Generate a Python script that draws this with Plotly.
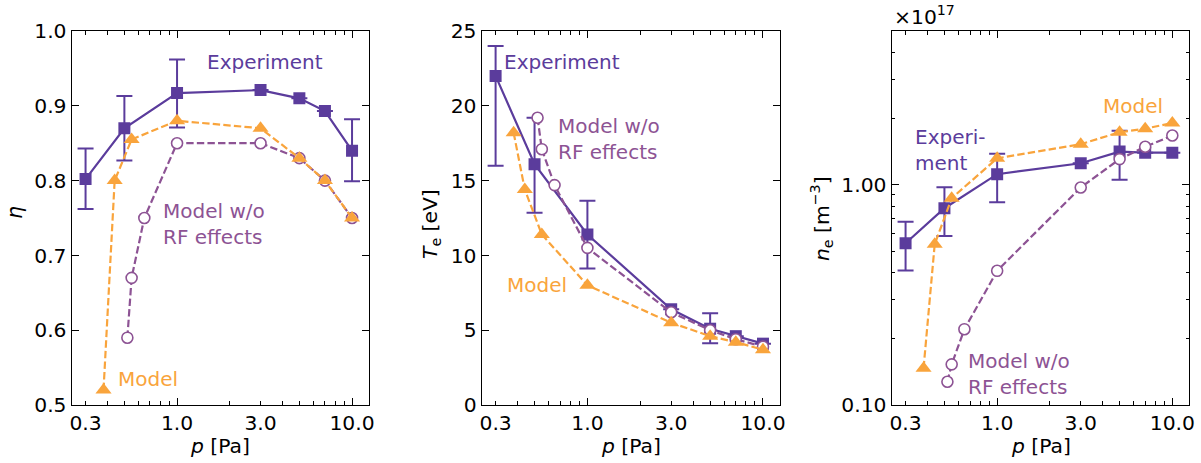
import math
import plotly.graph_objects as go

# ---------------- data ----------------
p_exp = [0.3, 0.5, 1.0, 3.0, 5.0, 7.0, 10.0]
p_model = [0.38, 0.44, 0.55, 1.0, 3.0, 5.0, 7.0, 10.0]
p_norf = [0.52, 0.55, 0.65, 1.0, 3.0, 5.0, 7.0, 10.0]

eta_exp = [0.802, 0.870, 0.917, 0.921, 0.910, 0.893, 0.840]
eta_exp_lo = [0.762, 0.827, 0.871, None, None, None, 0.799]
eta_exp_hi = [0.843, 0.913, 0.962, None, None, None, 0.882]
eta_model = [0.52, 0.80, 0.855, 0.88, 0.87, 0.83, 0.80, 0.75]
eta_norf = [0.59, 0.67, 0.75, 0.85, 0.85, 0.83, 0.80, 0.75]

te_exp = [22.0, 16.1, 11.4, 6.4, 5.1, 4.6, 4.1]
te_exp_lo = [16.0, 12.85, 9.13, None, 4.12, None, None]
te_exp_hi = [24.0, 19.2, 13.65, None, 6.13, None, None]
te_model = [18.2, 14.4, 11.4, 8.0, 5.5, 4.6, 4.2, 3.7]
te_norf = [19.2, 17.1, 14.7, 10.5, 6.2, 5.0, 4.4, 3.9]

ne_exp = [0.543, 0.783, 1.118, 1.254, 1.416, 1.40, 1.40]
ne_exp_lo = [0.408, 0.586, 0.834, None, 1.054, None, None]
ne_exp_hi = [0.68, 0.976, 1.383, None, 1.76, None, None]
ne_model = [0.147, 0.537, 0.87, 1.32, 1.53, 1.735, 1.80, 1.91]
ne_norf = [0.1276, 0.153, 0.221, 0.407, 0.973, 1.309, 1.49, 1.675]

x_ticks = [0.3, 1.0, 3.0, 10.0]
x_ticktext = ["0.3", "1.0", "3.0", "10.0"]
x_minor = [0.4, 0.5, 0.6, 0.7, 0.8, 0.9, 2, 4, 5, 6, 7, 8, 9]
x_long = [1.0, 10.0]
ne_ticks = [0.1, 1.0]
ne_ticktext = ["0.10", "1.00"]
ne_minor = [0.2, 0.3, 0.4, 0.5, 0.6, 0.7, 0.8, 0.9, 2, 3, 4, 5]

# ---------------- style ----------------
EXP = "#5b3c9c"
MOD = "#f9a43c"
NORF = "#8d5394"
FONT = "DejaVu Sans"
FS = 20.3
FA = 20.0
W, H = 1201, 463
panels_px = [(71.7, 369.0), (481.7, 780.0), (891.7, 1189.3)]
ytop_px, ybot_px = 31.0, 405.0
DASH = "7.4px,3.2px"


def errs(y, lo, hi):
    plus = [None if h is None else h - v for v, h in zip(y, hi)]
    minus = [None if l is None else v - l for v, l in zip(y, lo)]
    return plus, minus


fig = go.Figure()

series = [
    (eta_exp, eta_exp_lo, eta_exp_hi, eta_model, eta_norf),
    (te_exp, te_exp_lo, te_exp_hi, te_model, te_norf),
    (ne_exp, ne_exp_lo, ne_exp_hi, ne_model, ne_norf),
]

for i, (ye, lo, hi, ym, yn) in enumerate(series):
    xa = "x" if i == 0 else f"x{i+1}"
    ya = "y" if i == 0 else f"y{i+1}"
    plus, minus = errs(ye, lo, hi)
    fig.add_trace(go.Scatter(
        x=p_exp, y=ye, xaxis=xa, yaxis=ya, mode="lines+markers",
        line=dict(color=EXP, width=2.2),
        marker=dict(symbol="square", size=12, color=EXP),
        error_y=dict(type="data", symmetric=False, array=plus, arrayminus=minus,
                     color=EXP, thickness=2, width=8),
        showlegend=False))
    fig.add_trace(go.Scatter(
        x=p_norf, y=yn, xaxis=xa, yaxis=ya, mode="lines+markers",
        line=dict(color=NORF, width=2.2, dash=DASH),
        marker=dict(symbol="circle", size=11, color="white",
                    line=dict(color=NORF, width=1.6)),
        showlegend=False))
    fig.add_trace(go.Scatter(
        x=p_model, y=ym, xaxis=xa, yaxis=ya, mode="lines+markers",
        line=dict(color=MOD, width=2.2, dash=DASH),
        marker=dict(symbol="triangle-up", size=14, color=MOD),
        showlegend=False))

axis_common = dict(showline=True, linecolor="black", linewidth=1.2, mirror="ticks",
                   ticks="inside", tickcolor="black", tickwidth=1,
                   showgrid=False, zeroline=False, automargin=False,
                   tickfont=dict(family=FONT, size=FS, color="black"))
xrange_log = [math.log10(0.25), math.log10(12.5)]
ydom = [1 - ybot_px / H, 1 - ytop_px / H]

layout = dict(width=W, height=H, margin=dict(l=0, r=0, t=0, b=0, autoexpand=False),
              paper_bgcolor="white", plot_bgcolor="white",
              font=dict(family=FONT, size=FS, color="black"))

for i, (a, b) in enumerate(panels_px):
    sfx = "" if i == 0 else str(i + 1)
    layout[f"xaxis{sfx}"] = dict(
        axis_common, type="log", range=xrange_log, domain=[a / W, b / W],
        anchor=f"y{sfx}", tickmode="array", tickvals=x_ticks, ticktext=x_ticktext,
        ticklen=3.5,
        minor=dict(tickmode="array", tickvals=x_minor, ticklen=3.5, ticks="inside",
                   tickcolor="black", tickwidth=1))
    # overlay axis that carries the longer major ticks at decades
    layout[f"xaxis{i+4}"] = dict(
        type="log", range=xrange_log, overlaying=f"x{sfx}", anchor=f"y{sfx}",
        showline=False, mirror="ticks", ticks="inside", tickcolor="black",
        tickwidth=1, ticklen=7, tickmode="array", tickvals=x_long, automargin=False,
        showticklabels=False, showgrid=False, zeroline=False)

layout["yaxis"] = dict(axis_common, domain=ydom, anchor="x", range=[0.5, 1.0],
                       tickmode="array", tickvals=[0.5, 0.6, 0.7, 0.8, 0.9, 1.0],
                       ticktext=["0.5", "0.6", "0.7", "0.8", "0.9", "1.0"], ticklen=7)
layout["yaxis2"] = dict(axis_common, domain=ydom, anchor="x2", range=[0, 25],
                        tickmode="array", tickvals=[0, 5, 10, 15, 20, 25], ticklen=7)
layout["yaxis3"] = dict(axis_common, domain=ydom, anchor="x3", type="log",
                        range=[-1, math.log10(5.0)], tickmode="array",
                        tickvals=ne_ticks, ticktext=ne_ticktext, ticklen=7,
                        minor=dict(tickmode="array", tickvals=ne_minor, ticklen=3.5,
                                   ticks="inside", tickcolor="black", tickwidth=1))

fig.update_layout(**layout)
# invisible traces so the overlay axes exist
for i in range(3):
    sfx = "" if i == 0 else str(i + 1)
    fig.add_trace(go.Scatter(x=[1.0], y=[None], xaxis=f"x{i+4}", yaxis=f"y{sfx}",
                             mode="markers", showlegend=False, hoverinfo="skip"))

ann = []


def lbl(text, x, y, xref, yref, color, log_x=True, log_y=False):
    ann.append(dict(text=text, x=math.log10(x) if log_x else x,
                    y=math.log10(y) if log_y else y, xref=xref, yref=yref,
                    xanchor="left", yanchor="middle", showarrow=False, borderpad=0,
                    align="left", font=dict(family=FONT, size=FA, color=color)))


# panel 1
lbl("Experiment", 1.47, 0.959, "x", "y", EXP)
lbl("Model w/o<br>RF effects", 0.82, 0.742, "x", "y", NORF)
lbl("Model", 0.453, 0.535, "x", "y", MOD)
# panel 2
lbl("Experiment", 0.331, 22.96, "x2", "y2", EXP)
lbl("Model w/o<br>RF effects", 0.672, 17.76, "x2", "y2", NORF)
lbl("Model", 0.345, 7.99, "x2", "y2", MOD)
# panel 3
lbl("Experi-<br>ment", 0.335, 1.435, "x3", "y3", EXP, log_y=True)
lbl("Model", 3.99, 2.27, "x3", "y3", MOD, log_y=True)
lbl("Model w/o<br>RF effects", 0.675, 0.1377, "x3", "y3", NORF, log_y=True)

# axis titles
for (a, b) in panels_px:
    ann.append(dict(text="<i>p</i> [Pa]", x=(a + b) / 2 / W, y=1 - 446 / H,
                    xref="paper", yref="paper", xanchor="center", yanchor="middle",
                    showarrow=False, font=dict(family=FONT, size=FS)))
ytitles = [("<i>η</i>", 15, 213), ("<i>T</i><sub>e</sub> [eV]", 431, 224),
           ("<i>n</i><sub>e</sub> [m<sup>−3</sup>]", 821, 219)]
for t, xp, yp in ytitles:
    ann.append(dict(text=t, x=xp / W, y=1 - yp / H, xref="paper", yref="paper",
                    xanchor="center", yanchor="middle", textangle=-90, showarrow=False,
                    font=dict(family=FONT, size=FS)))
ann.append(dict(text="×10<sup>17</sup>", x=893 / W, y=1 - 31 / H, xref="paper",
                yref="paper", xanchor="left", yanchor="bottom", yshift=1,
                showarrow=False, borderpad=0, font=dict(family=FONT, size=FS)))

fig.update_layout(annotations=ann)
fig.write_html("out.html", config={"displayModeBar": False},
               post_script="document.body.style.margin='0px';")
